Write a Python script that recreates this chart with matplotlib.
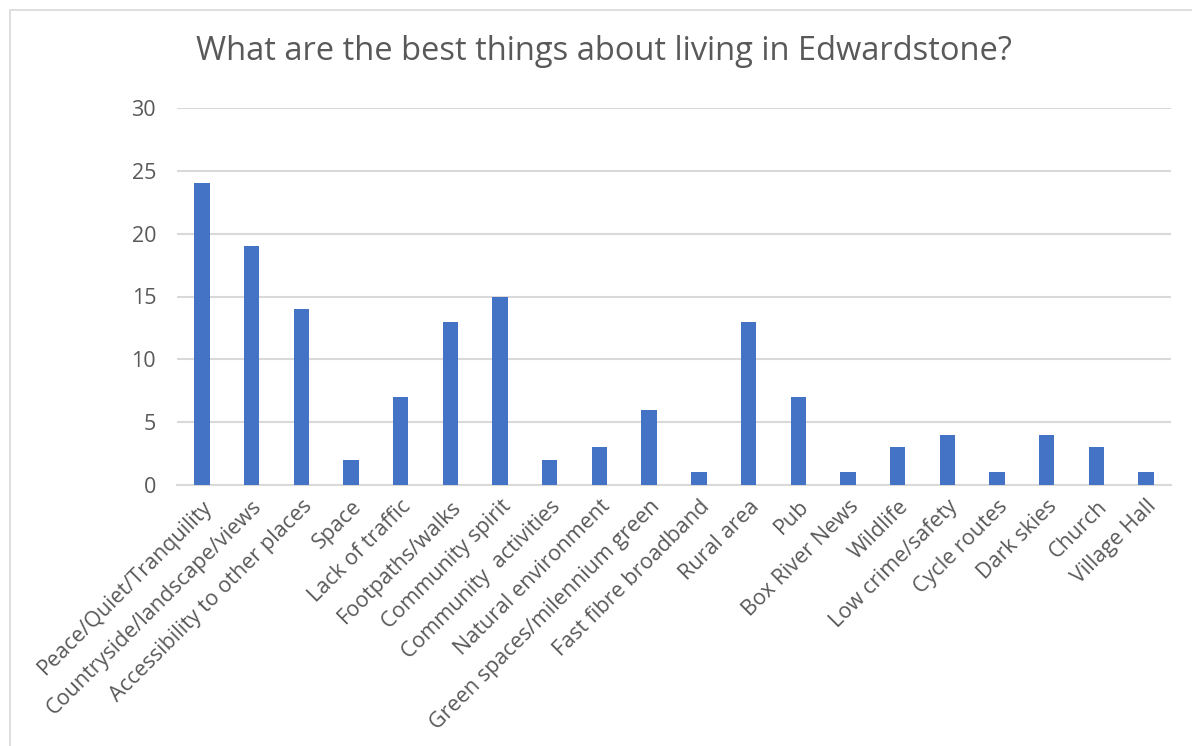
import matplotlib
matplotlib.use("Agg")
import matplotlib.pyplot as plt
from matplotlib.patches import Rectangle

categories = ["Peace/Quiet/Tranquility", "Countryside/landscape/views", "Accessibility to other places",
              "Space", "Lack of traffic", "Footpaths/walks", "Community spirit", "Community  activities",
              "Natural environment", "Green spaces/milennium green", "Fast fibre broadband", "Rural area",
              "Pub", "Box River News", "Wildlife", "Low crime/safety", "Cycle routes", "Dark skies",
              "Church", "Village Hall"]
values = [24, 19, 14, 2, 7, 13, 15, 2, 3, 6, 1, 13, 7, 1, 3, 4, 1, 4, 3, 1]
yticks = [0, 5, 10, 15, 20, 25, 30]
title = "What are the best things about living in Edwardstone?"

plt.rcParams['font.family'] = ['Open Sans', 'DejaVu Sans']
W, H = 1192, 746
fig = plt.figure(figsize=(W/100, H/100), dpi=100)
txt = '#595959'
grid = '#d9d9d9'

fig.patches.append(Rectangle((10/W, -0.1), 1.2, 1 - 10/H + 0.1, transform=fig.transFigure,
                             fill=False, edgecolor=grid, linewidth=1.2))

ax = fig.add_axes([177/W, 1 - 485/H, (1171-177)/W, (485-108)/H])
x = range(len(categories))
ax.bar(x, values, width=0.31, color='#4472C4', zorder=3)
ax.set_xlim(-0.5, len(categories) - 0.5)
ax.set_ylim(0, 30)
ax.set_yticks(yticks)
ax.set_yticklabels([str(v) for v in yticks], fontsize=15.5, color=txt)
ax.yaxis.grid(True, color=grid, linewidth=1.5, zorder=0)
ax.set_xticks(list(x))
ax.set_xticklabels(categories, rotation=45, ha='right', rotation_mode='anchor', fontsize=15.5, color=txt)
ax.tick_params(axis='both', length=0)
ax.tick_params(axis='y', pad=15)
ax.tick_params(axis='x', pad=8)
for s in ['top', 'right', 'left']:
    ax.spines[s].set_visible(False)
ax.spines['bottom'].set_color(grid)
ax.spines['bottom'].set_linewidth(1.5)

fig.text(604/W, 1 - 52/H, title, ha='center', va='center', fontsize=23.5, color=txt)

fig.savefig('out.png', dpi=100)
